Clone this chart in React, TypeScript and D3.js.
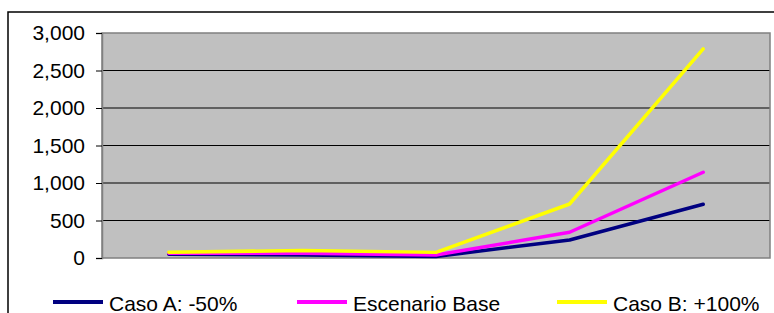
import React, { useEffect, useRef } from 'react';
import * as d3 from 'd3';

const categories = ['P1', 'P2', 'P3', 'P4', 'P5'];
const casoA = [50, 40, 20, 240, 716];
const escenarioBase = [65, 62, 40, 343, 1143];
const casoB = [76, 100, 75, 720, 2787];
const yTicks = [0, 500, 1000, 1500, 2000, 2500, 3000];

const seriesNames = ['Caso A: -50%', 'Escenario Base', 'Caso B: +100%'];
const seriesColors = ['#000080', '#ff00ff', '#ffff00'];

const App: React.FC = () => {
  const ref = useRef<SVGSVGElement | null>(null);

  useEffect(() => {
    if (!ref.current) return;
    const width = 774;
    const height = 313;
    const plot = { left: 102, right: 770, top: 33, bottom: 258 };
    const font = '"Liberation Sans", Arial, sans-serif';

    const svg = d3.select(ref.current).attr('width', width).attr('height', height);
    svg.selectAll('*').remove();

    // outer chart frame (cut at right/bottom)
    svg.append('path')
      .attr('d', `M8,${height + 2} L8,12 L${width + 2},12`)
      .attr('fill', 'none')
      .attr('stroke', '#000')
      .attr('stroke-width', 1.5);

    const x = d3.scalePoint<string>().domain(categories).range([plot.left, plot.right]).padding(0.5);
    const y = d3.scaleLinear().domain([0, 3000]).range([plot.bottom, plot.top]);

    // plot area
    svg.append('rect')
      .attr('x', plot.left)
      .attr('y', plot.top)
      .attr('width', plot.right - plot.left)
      .attr('height', plot.bottom - plot.top)
      .attr('fill', '#c0c0c0');

    // gridlines
    svg.selectAll('.grid')
      .data(yTicks.filter((t) => t > 0 && t < 3000))
      .enter().append('line')
      .attr('x1', plot.left)
      .attr('x2', plot.right)
      .attr('y1', (d) => y(d))
      .attr('y2', (d) => y(d))
      .attr('stroke', '#000')
      .attr('stroke-width', 1);

    svg.append('rect')
      .attr('x', plot.left)
      .attr('y', plot.top)
      .attr('width', plot.right - plot.left)
      .attr('height', plot.bottom - plot.top)
      .attr('fill', 'none')
      .attr('stroke', '#808080')
      .attr('stroke-width', 1.5);

    // y axis
    const axis = svg.append('g')
      .attr('transform', `translate(${plot.left},0)`)
      .call(d3.axisLeft(y).tickValues(yTicks).tickSize(6).tickPadding(11).tickFormat(d3.format(',')));
    axis.select('.domain').attr('stroke', '#808080').attr('stroke-width', 1.5);
    axis.selectAll('.tick line').attr('stroke', '#000');
    axis.selectAll('text')
      .style('font-family', font)
      .style('font-size', '21px')
      .attr('fill', '#000');

    // lines
    const all = [casoA, escenarioBase, casoB];
    const line = d3.line<number>()
      .x((_, i) => x(categories[i]) || 0)
      .y((d) => y(d));
    all.forEach((vals, i) => {
      svg.append('path')
        .datum(vals)
        .attr('d', line)
        .attr('fill', 'none')
        .attr('stroke', seriesColors[i])
        .attr('stroke-width', 3.5)
        .attr('stroke-linejoin', 'round')
        .attr('stroke-linecap', 'round');
    });

    // legend
    const legendX = [53, 297, 557];
    seriesNames.forEach((name, i) => {
      const g = svg.append('g').attr('transform', `translate(${legendX[i]},302)`);
      g.append('line')
        .attr('x1', 0)
        .attr('x2', 50)
        .attr('stroke', seriesColors[i])
        .attr('stroke-width', 4);
      g.append('text')
        .attr('x', 56)
        .attr('y', 9)
        .text(name)
        .style('font-family', font)
        .style('font-size', '21px')
        .attr('fill', '#000');
    });
  }, []);

  return (
    <div style={{ position: 'absolute', left: 0, top: 0 }}>
      <svg ref={ref}></svg>
    </div>
  );
};

export default App;
